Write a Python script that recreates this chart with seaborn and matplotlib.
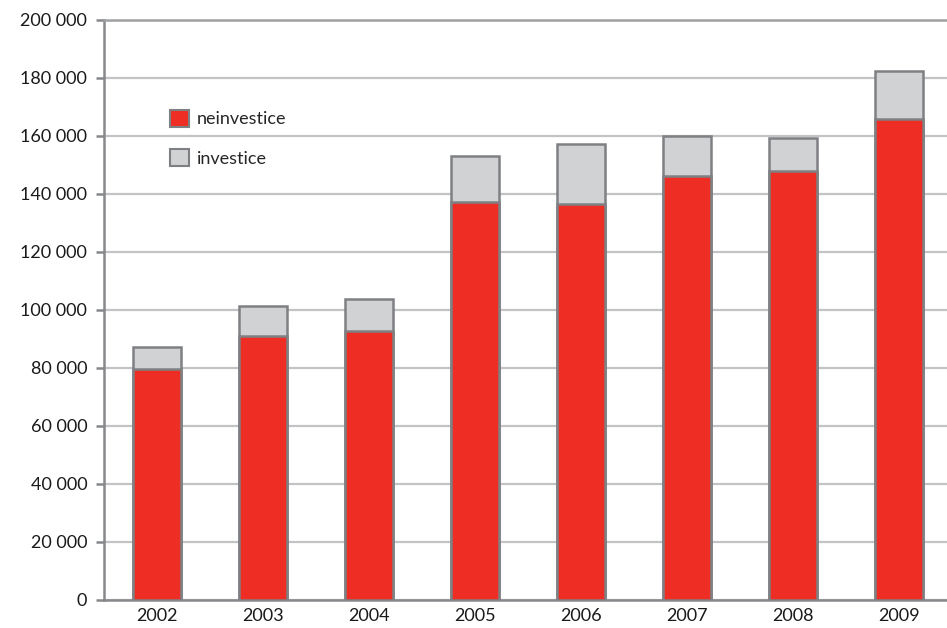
import numpy as np
import pandas as pd
import seaborn as sns
from matplotlib import pyplot as plt
from matplotlib.ticker import FuncFormatter, FixedLocator
from matplotlib.patches import Patch

# data (thousands)
years = ["2002", "2003", "2004", "2005", "2006", "2007", "2008", "2009"]
neinvestice = [79.7, 91.0, 92.8, 137.1, 136.4, 146.2, 148.0, 165.8]
investice = [7.6, 10.5, 11.0, 16.1, 20.8, 13.9, 11.4, 16.6]

red = "#ee2e24"
grey = "#d1d2d4"
edge = "#7f8083"

df = pd.DataFrame({
    "rok": years,
    "neinvestice": np.array(neinvestice) * 1000,
    "celkem": (np.array(neinvestice) + np.array(investice)) * 1000,
})

sns.set_style("white")
plt.rcParams["font.family"] = ["Lato", "DejaVu Sans"]

fig = plt.figure(figsize=(9.47, 6.28), dpi=100)
ax = fig.add_axes([104 / 947, 28 / 628, 848 / 947, 580 / 628])

# total bar in grey, red part drawn on top of it
sns.barplot(data=df, x="rok", y="celkem", color=grey, saturation=1,
            width=0.46, edgecolor=edge, linewidth=1.8, ax=ax, zorder=3)
sns.barplot(data=df, x="rok", y="neinvestice", color=red, saturation=1,
            width=0.46, edgecolor=edge, linewidth=1.8, ax=ax, zorder=4)

ax.set_xlim(-0.5, 7.5)
ax.set_ylim(0, 200000)
ax.set_yticks(np.arange(0, 200001, 20000))
ax.yaxis.set_major_formatter(FuncFormatter(lambda v, p: f"{int(v):,}".replace(",", " ")))
ax.grid(axis="y", color="#c2c3c5", linewidth=1.6, zorder=0)
ax.set_axisbelow(True)

ax.set_xlabel("")
ax.set_ylabel("")

ax.spines["right"].set_visible(False)
for s in ["left", "bottom", "top"]:
    ax.spines[s].set_color("#87888b")
    ax.spines[s].set_linewidth(1.8)
ax.spines["top"].set_color("#a0a1a3")

# x ticks at category boundaries, labels at centers
ax.xaxis.set_minor_locator(FixedLocator(np.arange(-0.5, 8, 1)))
ax.tick_params(axis="x", which="major", length=0, labelsize=13, pad=6, colors="#1a1a1a")
ax.tick_params(axis="x", which="minor", length=6, width=1.8, color="#87888b", direction="out")
ax.tick_params(axis="y", length=6, width=1.8, color="#87888b", labelsize=13,
               pad=6, left=True, labelcolor="#1a1a1a")

handles = [Patch(facecolor=red, edgecolor=edge, linewidth=1.5, label="neinvestice"),
           Patch(facecolor=grey, edgecolor=edge, linewidth=1.5, label="investice")]
ax.legend(handles=handles, loc="upper left", bbox_to_anchor=(0.078, 0.845),
          frameon=False, fontsize=13, handlelength=1.05, handleheight=1.05,
          handletextpad=0.45, labelspacing=1.2, borderpad=0, borderaxespad=0)

plt.savefig("out.png", dpi=100)
